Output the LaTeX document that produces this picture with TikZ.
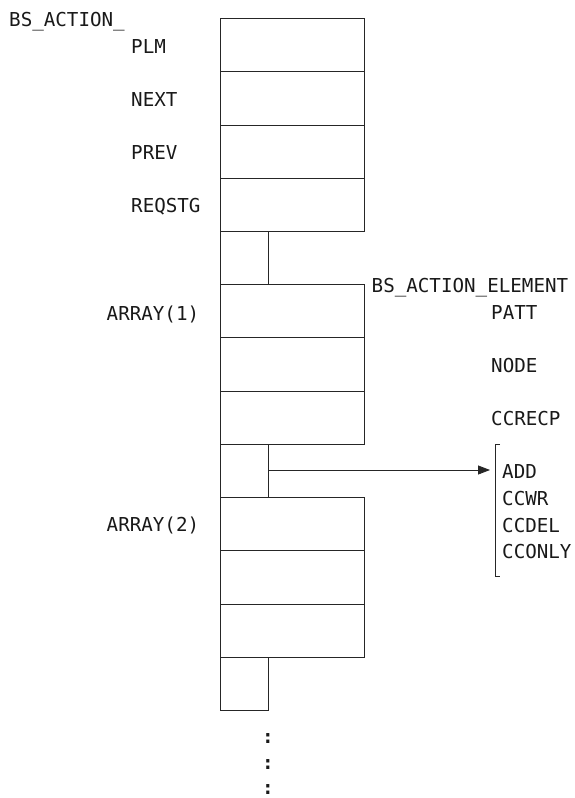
\documentclass[tikz,border=0pt]{standalone}
\usepackage{fontspec}
\setmonofont{DejaVu Sans Mono}
\usetikzlibrary{arrows.meta}
\begin{document}
\begin{tikzpicture}[x=1pt,y=-1pt,
  lbl/.style={anchor=base west,inner sep=0pt,font=\ttfamily\fontsize{19.2}{20}\selectfont,text=black!90},
  dots/.style={anchor=base,inner sep=0pt,text depth=0pt,font=\ttfamily\bfseries\fontsize{19.2}{20}\selectfont,text=black!90},
  cell/.style={draw=black!85,line width=0.8pt,rectangle,anchor=north west,inner sep=0pt,minimum width=144pt},
  stub/.style={draw=black!85,line width=0.8pt,rectangle,anchor=north west,inner sep=0pt,minimum width=48pt,minimum height=53pt},
  conn/.style={draw=black!85,line width=0.8pt}]
\useasboundingbox (0,0) rectangle (574,798);
% main structure
\node[cell,minimum height=53pt] (b1) at (220,18) {};
\node[cell,minimum height=54pt] (b2) at (220,71) {};
\node[cell,minimum height=53pt] (b3) at (220,125) {};
\node[cell,minimum height=53pt] (b4) at (220,178) {};
\node[stub] (s1) at (220,231) {};
\node[cell,minimum height=53pt] (e1) at (220,284) {};
\node[cell,minimum height=54pt] (e2) at (220,337) {};
\node[cell,minimum height=53pt] (e3) at (220,391) {};
\node[stub] (s2) at (220,444) {};
\node[cell,minimum height=53pt] (f1) at (220,497) {};
\node[cell,minimum height=54pt] (f2) at (220,550) {};
\node[cell,minimum height=53pt] (f3) at (220,604) {};
\node[stub] (s3) at (220,657) {};
% labels
\node[lbl] (tBS) at (9,26) {BS\_ACTION\_};
\node[lbl] (tPLM) at (131,53) {PLM};
\node[lbl] (tNEXT) at (131,106) {NEXT};
\node[lbl] (tPREV) at (131,159) {PREV};
\node[lbl] (tREQ) at (131,212) {REQSTG};
\node[lbl] (tA1) at (106.5,320) {ARRAY(1)};
\node[lbl] (tA2) at (106.5,531.5) {ARRAY(2)};
\node[lbl] (tBSE) at (371.5,292.5) {BS\_ACTION\_ELEMENT};
\node[lbl] (tPATT) at (491,319) {PATT};
\node[lbl] (tNODE) at (491,372) {NODE};
\node[lbl] (tCCRECP) at (491,425) {CCRECP};
\node[lbl] (tADD) at (502,478) {ADD};
\node[lbl] (tCCWR) at (502,505) {CCWR};
\node[lbl] (tCCDEL) at (502,532) {CCDEL};
\node[lbl] (tCCONLY) at (502,558.5) {CCONLY};
% bracket
\coordinate (brT) at (495,444);
\coordinate (brB) at (495,576);
\draw[conn] ([xshift=5pt]brT) -- (brT) -- (brB) -- ([xshift=5pt]brB);
% arrow
\coordinate (arr) at (490,470);
\draw[conn,-{Triangle[length=12pt,width=9pt]}] (s2.east |- arr) -- (arr);
% continuation dots
\node[dots] (d1) at (268,743) {:};
\node[dots] (d2) at (268,769) {:};
\node[dots] (d3) at (268,794.5) {:};
\end{tikzpicture}
\end{document}
